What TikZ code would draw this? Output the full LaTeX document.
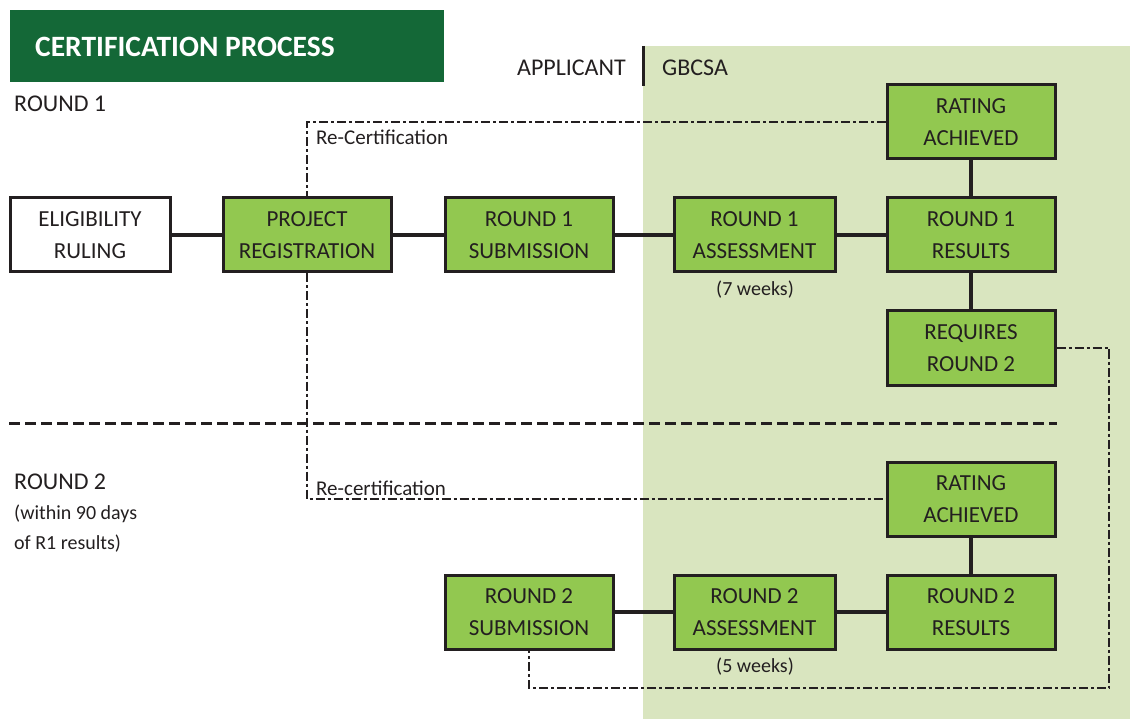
\documentclass[tikz,border=0pt]{standalone}
\usepackage{fontspec}
\setmainfont{Carlito}
\usepackage{xcolor}
\usetikzlibrary{calc}

\definecolor{ink}{HTML}{231F20}
\definecolor{titlegreen}{HTML}{146837}
\definecolor{boxgreen}{HTML}{92C850}
\definecolor{zonegreen}{HTML}{D9E5BF}

\tikzset{
  stage/.style={draw=ink, line width=3pt, fill=boxgreen, text=ink,
    minimum width=168pt, minimum height=74pt, align=center, inner sep=0pt,
    font=\fontsize{23}{32}\selectfont},
  link/.style={draw=ink, line width=3.2pt},
  recert/.style={draw=ink, line width=1.4pt, dash pattern=on 9pt off 3pt on 3pt off 3pt},
  note/.style={text=ink, inner sep=0pt, font=\fontsize{20}{30}\selectfont},
  lane/.style={text=ink, inner sep=0pt, font=\fontsize{24}{30}\selectfont},
}

\begin{document}
\begin{tikzpicture}[x=1pt,y=-1pt]
  \useasboundingbox (0,0) rectangle (1130,719);

  % GBCSA side
  \fill[zonegreen] (643,46) rectangle (1130,719);
  \draw[ink, line width=3pt] (643,46) -- (643,86);

  % title
  \fill[titlegreen] (10,10) rectangle (444,82);
  \node[anchor=west, text=white, inner sep=0pt, font=\fontsize{29.5}{32}\selectfont\bfseries]
    (title) at (35,47) {CERTIFICATION PROCESS};

  % lane labels
  \node[lane, anchor=east] (applicant) at (626,68) {APPLICANT};
  \node[lane, anchor=west] (gbcsa) at (662,68) {GBCSA};
  \node[lane, anchor=west] (round1) at (14,104) {ROUND 1};
  \node[lane, anchor=west] (round2) at (14,482) {ROUND 2};
  \node[note, anchor=north west, align=left] (window) at (14,505)
    {(within 90 days\\of R1 results)};

  % round 1 boxes
  \node[stage, fill=white, minimum width=160pt] (elig) at (90,235) {ELIGIBILITY\\RULING};
  \node[stage] (proj) at (307,235) {PROJECT\\REGISTRATION};
  \node[stage] (sub1) at (529,235) {ROUND 1\\SUBMISSION};
  \node[stage, minimum width=161pt] (assess1) at (754.5,235) {ROUND 1\\ASSESSMENT};
  \node[stage] (res1) at (971,235) {ROUND 1\\RESULTS};
  \node[stage] (rate1) at (971,122) {RATING\\ACHIEVED};
  \node[stage] (req) at (971,348) {REQUIRES\\ROUND 2};
  \node[note] (weeks1) at (755,290) {(7 weeks)};

  % round 2 boxes
  \node[stage] (rate2) at (971,499) {RATING\\ACHIEVED};
  \node[stage] (res2) at (971,612) {ROUND 2\\RESULTS};
  \node[stage, minimum width=161pt] (assess2) at (754.5,612) {ROUND 2\\ASSESSMENT};
  \node[stage] (sub2) at (529,612) {ROUND 2\\SUBMISSION};
  \node[note] (weeks2) at (755,667) {(5 weeks)};

  % solid connectors
  \draw[link] (elig) -- (proj);
  \draw[link] (proj) -- (sub1);
  \draw[link] (sub1) -- (assess1);
  \draw[link] (assess1) -- (res1);
  \draw[link] (res1) -- (rate1);
  \draw[link] (res1) -- (req);
  \draw[link] (sub2) -- (assess2);
  \draw[link] (assess2) -- (res2);
  \draw[link] (res2) -- (rate2);

  % split between rounds
  \draw[ink, line width=3pt, dash pattern=on 11pt off 5pt] (9,423) -- (1057,423);

  % re-certification paths
  \draw[recert] (rate1.west) -| (proj.north);
  \node[note, anchor=west, font=\fontsize{21}{30}\selectfont] (recert1) at (316,137) {Re-Certification};
  \draw[recert] (proj.south) |- (rate2.west);
  \node[note, anchor=west, font=\fontsize{21}{30}\selectfont] (recert2) at (316,488) {Re-certification};

  % loop back to round 2 submission
  \coordinate (loopcorner) at (1109,688);
  \draw[recert] (req.east) -| (loopcorner) -| (sub2.south);
\end{tikzpicture}
\end{document}
